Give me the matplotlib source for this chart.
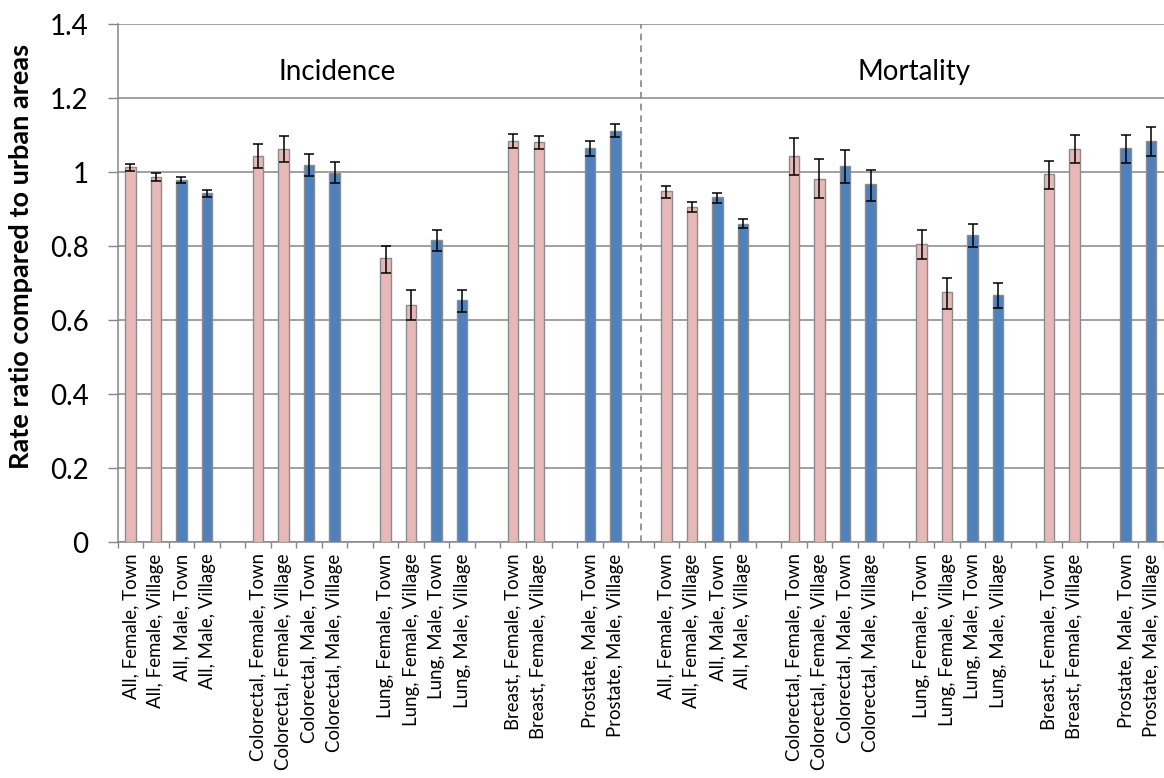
import numpy as np
import matplotlib
matplotlib.use("Agg")
import matplotlib.pyplot as plt
from matplotlib.ticker import FuncFormatter

plt.rcParams['font.family'] = ['Lato', 'DejaVu Sans']

# ---- data ----
group_labels = [
    "All, Female, Town", "All, Female, Village", "All, Male, Town", "All, Male, Village", "",
    "Colorectal, Female, Town", "Colorectal, Female, Village", "Colorectal, Male, Town", "Colorectal, Male, Village", "",
    "Lung, Female, Town", "Lung, Female, Village", "Lung, Male, Town", "Lung, Male, Village", "",
    "Breast, Female, Town", "Breast, Female, Village", "",
    "Prostate, Male, Town", "Prostate, Male, Village",
]
nan = np.nan
incidence_values = [1.013, 0.987, 0.978, 0.943, nan,
                    1.044, 1.063, 1.018, 0.999, nan,
                    0.769, 0.642, 0.818, 0.654, nan,
                    1.084, 1.081, nan,
                    1.064, 1.112]
incidence_lo = [1.003, 0.975, 0.970, 0.934, nan,
                1.011, 1.027, 0.989, 0.971, nan,
                0.728, 0.601, 0.786, 0.622, nan,
                1.066, 1.062, nan,
                1.045, 1.094]
incidence_hi = [1.022, 0.998, 0.988, 0.953, nan,
                1.076, 1.098, 1.048, 1.027, nan,
                0.801, 0.681, 0.843, 0.682, nan,
                1.102, 1.098, nan,
                1.085, 1.130]
mortality_values = [0.948, 0.906, 0.932, 0.860, nan,
                    1.044, 0.982, 1.016, 0.967, nan,
                    0.806, 0.675, 0.830, 0.667, nan,
                    0.994, 1.063, nan,
                    1.064, 1.084]
mortality_lo = [0.931, 0.893, 0.918, 0.848, nan,
                0.992, 0.930, 0.971, 0.922, nan,
                0.765, 0.630, 0.799, 0.634, nan,
                0.955, 1.025, nan,
                1.025, 1.045]
mortality_hi = [0.962, 0.920, 0.945, 0.873, nan,
                1.093, 1.035, 1.060, 1.006, nan,
                0.843, 0.715, 0.860, 0.700, nan,
                1.031, 1.101, nan,
                1.101, 1.122]
section_titles = ["Incidence", "Mortality"]
yticks = [0, 0.2, 0.4, 0.6, 0.8, 1.0, 1.2, 1.4]

female_color = "#E6B9B8"
male_color = "#4F81BD"
edge_color = "#8C8C8C"
grid_color = "#868686"

# ---- assemble slots ----
labels = group_labels + [""] + group_labels
values = np.array(incidence_values + [nan] + mortality_values, dtype=float)
lo = np.array(incidence_lo + [nan] + mortality_lo, dtype=float)
hi = np.array(incidence_hi + [nan] + mortality_hi, dtype=float)
x = np.arange(len(labels))
colors = [female_color if "Female" in l else male_color for l in labels]

W, H = 1164, 778
fig = plt.figure(figsize=(W / 100, H / 100), dpi=100)
ax = fig.add_axes([0.1011, 0.303, 0.8989, 0.666])

mask = ~np.isnan(values)
ax.bar(x[mask], values[mask], width=0.41, color=np.array(colors)[mask],
       edgecolor=edge_color, linewidth=1.0, zorder=3)
ax.errorbar(x[mask], values[mask],
            yerr=[values[mask] - lo[mask], hi[mask] - values[mask]],
            fmt='none', ecolor='black', elinewidth=1.1, capsize=3.4,
            capthick=1.1, zorder=4)

ax.set_xlim(-0.5, len(labels) - 0.5)
ax.set_ylim(0, 1.4)
ax.set_yticks(yticks)
ax.yaxis.set_major_formatter(FuncFormatter(lambda v, p: f"{v:g}"))
ax.grid(axis='y', color=grid_color, linewidth=1.1, zorder=0)
ax.set_axisbelow(True)

ax.set_xticks(x[mask])
ax.set_xticklabels([labels[i] for i in x[mask]], rotation=90, fontsize=13.4)
ax.set_xticks(np.arange(-0.5, len(labels), 1.0), minor=True)
ax.tick_params(axis='x', which='major', length=0, pad=8)
ax.tick_params(axis='x', which='minor', length=4.5, width=1.0, color=grid_color)
ax.tick_params(axis='y', which='major', length=7, width=1.0, color=grid_color,
               labelsize=20, pad=14)

for s in ['top', 'right']:
    ax.spines[s].set_visible(False)
for s in ['left', 'bottom']:
    ax.spines[s].set_color(grid_color)
    ax.spines[s].set_linewidth(1.1)

ax.axvline(20, ymin=0, ymax=1, color=grid_color, linewidth=1.2,
           linestyle=(0, (4, 3)), zorder=2)

ax.text(8.1, 1.27, section_titles[0], fontsize=20, ha='center', va='center')
ax.text(30.7, 1.27, section_titles[1], fontsize=20, ha='center', va='center')

fig.text(21 / W, 1 - 256 / H, "Rate ratio compared to urban areas",
         rotation=90, ha='center', va='center', fontsize=19.5, fontweight='bold')

fig.savefig("out.png", dpi=100)
